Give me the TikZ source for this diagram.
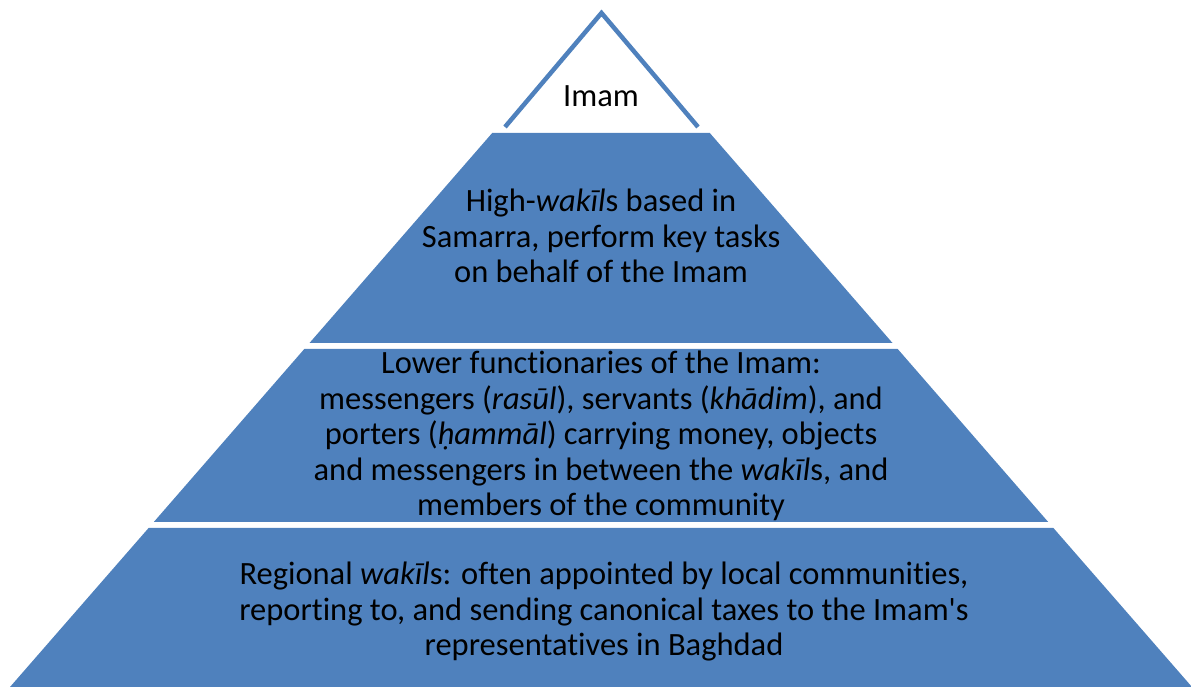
\documentclass[tikz,border=0pt]{standalone}
\usepackage{fontspec}
\setmainfont{Carlito}[Ligatures={NoCommon}]
\usepackage{tikz}
\usetikzlibrary{positioning,calc}
\definecolor{pyrblue}{HTML}{4F81BD}

\begin{document}
\begin{tikzpicture}[x=1pt,y=1pt,
    tier/.style={fill=pyrblue, draw=none},
    tiertext/.style={align=center, text=black, font=\fontsize{32.5}{35.5}\selectfont}]
    \useasboundingbox (0,0) rectangle (1191,687);

    % Top of the pyramid
    \draw[pyrblue, line width=4.5pt, miter limit=10] (505,560) -- (601.5,674) -- (698,560);
    \node[tiertext] (imam) at (601,591) {Imam};

    % Tiers
    \fill[tier] (492.2,554) -- (709.8,554) -- (892.5,344) -- (309.5,344) -- cycle;
    \fill[tier] (304.3,338) -- (897.7,338) -- (1048.2,165) -- (153.8,165) -- cycle;
    \fill[tier] (148.6,159) -- (1053.4,159) -- (1192,0) -- (10,0) -- cycle;

    \node[tiertext] (high) at (601,451) {High-\textit{wakīl}s based in\\
        Samarra, perform key tasks\\
        on behalf of the Imam};
    \node[tiertext] (lower) at (601,251) {Lower functionaries of the Imam:\\
        messengers (\textit{rasūl}), servants (\textit{khādim}), and\\
        porters (\textit{ḥammāl}) carrying money, objects\\
        and messengers in between the \textit{wakīl}s, and\\
        members of the community};
    \node[tiertext] (regional) at (604,75) {Regional \textit{wakīl}s: often appointed by local communities,\\
        reporting to, and sending canonical taxes to the Imam\textquotesingle s\\
        representatives in Baghdad};

\end{tikzpicture}
\end{document}
